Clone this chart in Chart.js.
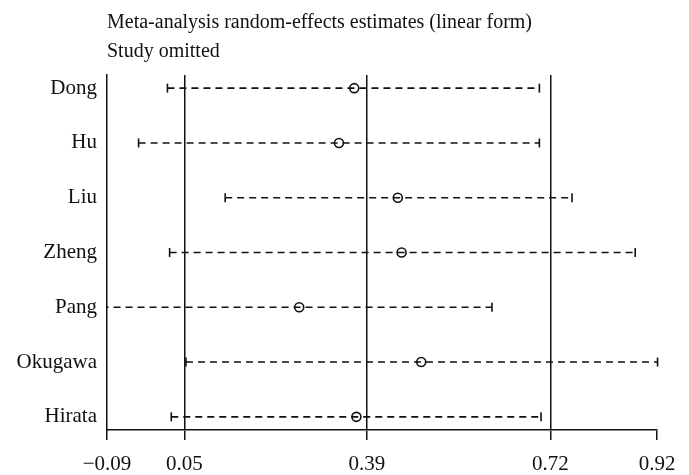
<!DOCTYPE html>
<html>
<head>
<meta charset="utf-8">
<script src="https://cdn.jsdelivr.net/npm/chart.js@4/dist/chart.umd.min.js"></script>
<style>
  html, body { margin: 0; padding: 0; background: #fff; }
  #wrap { width: 689px; height: 475px; }
</style>
</head>
<body>
<div id="wrap"><canvas id="chart"></canvas></div>
<script>
// studies omitted, top to bottom
const studies = ['Dong', 'Hu', 'Liu', 'Zheng', 'Pang', 'Okugawa', 'Hirata'];
// pooled estimate with each study left out, and its 95% limits
const estimates = [0.364, 0.336, 0.444, 0.451, 0.263, 0.487, 0.368];
const lower = [0.021, -0.032, 0.127, 0.025, -0.10, 0.055, 0.028];
const upper = [0.704, 0.704, 0.764, 0.880, 0.617, 0.921, 0.707];
// x axis ticks and the solid reference lines (overall lower, estimate, upper)
const tickVals = [-0.09, 0.052, 0.387, 0.724, 0.92];
const refLines = [0.052, 0.387, 0.724];

const ink = '#111';
const serif = "'Liberation Serif', 'DejaVu Serif', serif";

const datasets = studies.map((s, i) => ({
    type: 'scatter',
    label: s,
    data: [{ x: lower[i], y: i + 1 }, { x: upper[i], y: i + 1 }],
    showLine: true,
    borderColor: ink,
    borderWidth: 1.6,
    borderDash: [7, 5],
    pointStyle: 'line',
    rotation: 90,
    pointRadius: 4.5,
    pointBorderWidth: 1.6,
    pointBorderColor: ink,
    // clip at the left axis only, so the right-hand caps stay visible
    clip: { left: 1, right: 10, top: 10, bottom: 10 }
}));

datasets.push({
    type: 'scatter',
    label: 'Estimate',
    data: estimates.map((v, i) => ({ x: v, y: i + 1 })),
    pointStyle: 'circle',
    pointRadius: 4.5,
    pointBorderWidth: 1.6,
    pointBorderColor: ink,
    pointBackgroundColor: '#fff'
});

new Chart(document.getElementById('chart'), {
    type: 'scatter',
    data: { datasets: datasets },
    options: {
        responsive: true,
        maintainAspectRatio: false,
        animation: false,
        events: [],
        layout: { padding: { left: 0, right: 32, top: 0, bottom: 0 } },
        plugins: {
            legend: { display: false },
            tooltip: { enabled: false },
            title: {
                display: true,
                text: ['Meta-analysis random-effects estimates (linear form)', 'Study omitted'],
                align: 'start',
                fullSize: false,
                color: ink,
                font: { family: serif, size: 20, weight: 'normal', lineHeight: 1.45 },
                padding: { top: 8, bottom: 9 }
            }
        },
        scales: {
            x: {
                type: 'linear',
                min: -0.09,
                max: 0.92,
                afterBuildTicks: scale => { scale.ticks = tickVals.map(v => ({ value: v })); },
                afterFit: scale => { scale.height = 45; },
                ticks: {
                    color: ink,
                    padding: 12,
                    font: { family: serif, size: 21 },
                    maxRotation: 0,
                    callback: v => (v < 0 ? '\u2212' : '') + Math.abs(v).toFixed(2)
                },
                grid: {
                    color: ctx => (ctx.tick && refLines.includes(ctx.tick.value)) ? ink : 'rgba(0,0,0,0)',
                    tickColor: ink,
                    tickLength: 10,
                    lineWidth: 1.5
                },
                border: { display: true, color: ink, width: 1.5 }
            },
            y: {
                type: 'linear',
                reverse: true,
                min: 0.76,
                max: 7.24,
                afterBuildTicks: scale => { scale.ticks = studies.map((s, i) => ({ value: i + 1 })); },
                afterFit: scale => { scale.width = 107; },
                ticks: {
                    color: ink,
                    padding: 10,
                    font: { family: serif, size: 21 },
                    callback: v => studies[v - 1]
                },
                grid: { display: false, drawTicks: false },
                border: { display: true, color: ink, width: 1.5 }
            }
        }
    }
});
</script>
</body>
</html>
